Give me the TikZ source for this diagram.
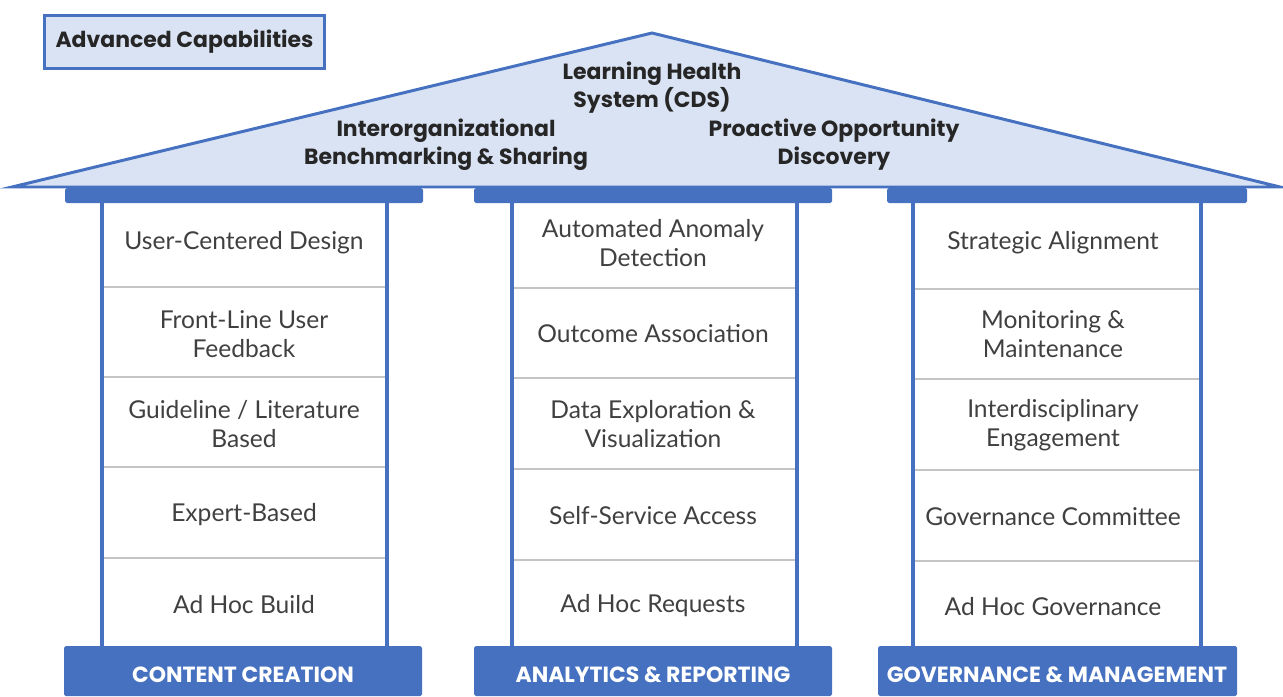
\documentclass[tikz,border=0pt]{standalone}
\usepackage{fontspec}
\setmainfont{Lato}
\newfontfamily\headfont{Poppins}
\usetikzlibrary{positioning}

\definecolor{pillarblue}{HTML}{4571C0}
\definecolor{rooffill}{HTML}{DAE3F3}
\definecolor{celltext}{HTML}{404040}
\definecolor{rowline}{HTML}{C4C4C4}

\begin{document}
\begin{tikzpicture}[
  x=0.02cm, y=-0.02cm,
  celltxt/.style={font=\fontsize{14}{16.5}\selectfont, text=celltext, align=center, inner sep=0pt},
  rooftxt/.style={font=\headfont\bfseries\fontsize{12.5}{16}\selectfont, text=black!85, align=center, inner sep=0pt},
  tagbox/.style={draw=pillarblue, line width=1.7pt, fill=rooffill, minimum width=5.62cm, minimum height=1.06cm,
    font=\headfont\bfseries\fontsize{12.5}{15}\selectfont, text=black!85},
  beam/.style={fill=pillarblue, rounded corners=1pt},
  pillar/.style={draw=pillarblue, line width=2.3pt},
  rowsep/.style={draw=rowline, line width=0.6pt},
  baselabel/.style={font=\headfont\bfseries\fontsize{12.5}{15}\selectfont, text=white, inner sep=0pt}
]
\useasboundingbox (0,0) rectangle (1283,696);

% roof
\draw[pillarblue, line width=1.7pt, fill=rooffill, line join=miter, miter limit=20]
  (12,187) -- (652,33) -- (1280,187) -- cycle;
\node[tagbox] (AdvCap) at (184.5,42) {Advanced Capabilities};

\node[rooftxt] (LHS)   at (652,88)  {Learning Health\\System (CDS)};
\node[rooftxt] (Bench) at (446,145) {Interorganizational\\Benchmarking \& Sharing};
\node[rooftxt] (Proact) at (834,145) {Proactive Opportunity\\Discovery};

% beams under the roof
\fill[beam] (65,188)  rectangle (423,203);
\fill[beam] (474,188) rectangle (832,203);
\fill[beam] (887,188) rectangle (1247,203);

% bases
\fill[beam] (64,646)  rectangle (422,696);
\fill[beam] (474,646) rectangle (832,696);
\fill[beam] (878,646) rectangle (1237,696);

% pillar sides
\draw[pillar] (102,203) -- (102,646);  \draw[pillar] (387,203) -- (387,646);
\draw[pillar] (512,203) -- (512,646);  \draw[pillar] (797,203) -- (797,646);
\draw[pillar] (913,203) -- (913,646);  \draw[pillar] (1201,203) -- (1201,646);

% row separators
\foreach \y in {287,377,467,558} \draw[rowsep] (104,\y) -- (385,\y);
\foreach \y in {288,378,469,560} \draw[rowsep] (514,\y) -- (795,\y);
\foreach \y in {289,379,470,561} \draw[rowsep] (915,\y) -- (1199,\y);

% content creation
\node[celltxt] (UCD)   at (244,243) {User-Centered Design};
\node[celltxt] (FLU)   at (244,334) {Front-Line User\\Feedback};
\node[celltxt] (Guide) at (244,424) {Guideline / Literature\\Based};
\node[celltxt] (Expert) at (244,515) {Expert-Based};
\node[celltxt] (Build) at (244,605) {Ad Hoc Build};
\node[baselabel] (CC) at (243,675) {CONTENT CREATION};

% analytics & reporting
\node[celltxt] (Anom)  at (653,243) {Automated Anomaly\\Detection};
\node[celltxt] (Outc)  at (653,334) {Outcome Association};
\node[celltxt] (DataX) at (653,424) {Data Exploration \&\\Visualization};
\node[celltxt] (Self)  at (653,516) {Self-Service Access};
\node[celltxt] (Req)   at (653,606) {Ad Hoc Requests};
\node[baselabel] (AR) at (653,675) {ANALYTICS \& REPORTING};

% governance & management
\node[celltxt] (Strat) at (1053,243) {Strategic Alignment};
\node[celltxt] (Mon)   at (1053,334) {Monitoring \&\\Maintenance};
\node[celltxt] (Inter) at (1053,425) {Interdisciplinary\\Engagement};
\node[celltxt] (Comm)  at (1053,517) {Governance Committee};
\node[celltxt] (AdGov) at (1053,607) {Ad Hoc Governance};
\node[baselabel] (GM) at (1057,675) {GOVERNANCE \& MANAGEMENT};

\end{tikzpicture}
\end{document}
